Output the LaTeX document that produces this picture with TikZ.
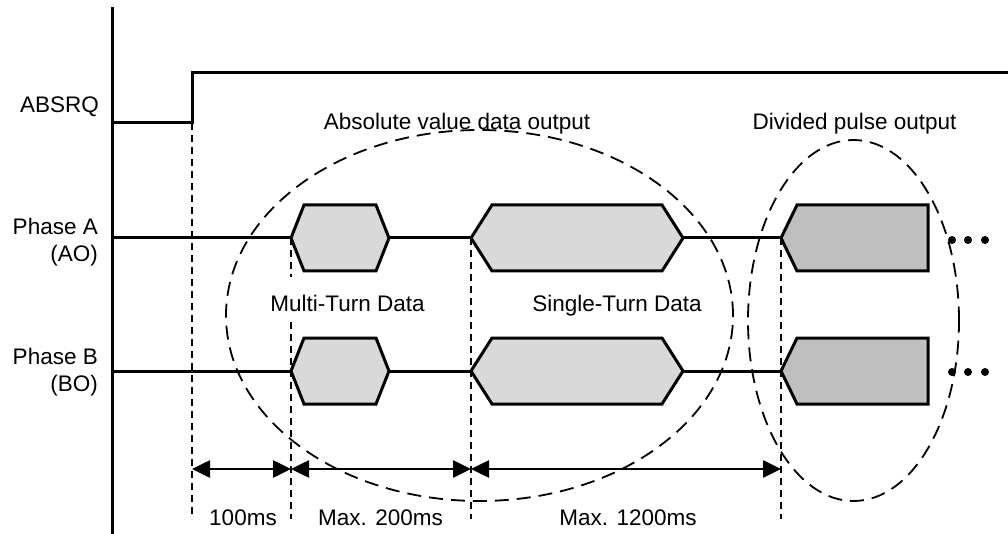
\documentclass[tikz,border=0pt]{standalone}
\usepackage{fontspec}
\setmainfont{Liberation Sans}
\usetikzlibrary{arrows.meta}
\begin{document}
\begin{tikzpicture}[x=1pt,y=-1pt,
  sig/.style={line width=3pt, line join=miter},
  guide/.style={line width=1.8pt, dash pattern=on 7pt off 5pt},
  grp/.style={line width=1.8pt, dash pattern=on 14pt off 8pt},
  lbl/.style={font=\fontsize{22.5}{27}\selectfont, inner sep=0pt},
  dimline/.style={line width=2.6pt, {Triangle[length=18pt,width=17pt]}-{Triangle[length=18pt,width=17pt]}},
  hexfill/.style={sig, fill=black!15},
  pulsefill/.style={sig, fill=black!25},
  dotmark/.style={circle, fill=black, inner sep=0pt, minimum size=8pt}
]
\useasboundingbox (0,0) rectangle (1008,534);

% guide coordinates
\coordinate (t0) at (192,469);
\coordinate (t1) at (291,469);
\coordinate (t2) at (471,469);
\coordinate (t3) at (781,469);

% dashed vertical guides
\draw[guide] (192,123) -- (192,519);
\draw[guide] (291,238) -- (291,277);
\draw[guide] (291,322) -- (291,519);
\draw[guide] (471,238) -- (471,519);
\draw[guide] (781,238) -- (781,519);

% axis
\draw[sig] (112,7) -- (112,534);

% ABSRQ
\draw[sig] (112,123) -- (192,123) -- (192,73) -- (1008,73);

% Phase A
\draw[sig] (112,238) -- (291,238);
\draw[sig] (389,238) -- (471,238);
\draw[sig] (683,238) -- (781,238);
\draw[hexfill] (291,238) -- (304,205) -- (376,205) -- (389,238) -- (376,271) -- (304,271) -- cycle;
\draw[hexfill] (471,238) -- (492,205) -- (662,205) -- (683,238) -- (662,271) -- (492,271) -- cycle;
\draw[pulsefill] (781,238) -- (797,205) -- (928,205) -- (928,271) -- (797,271) -- cycle;

% Phase B
\draw[sig] (112,371) -- (291,371);
\draw[sig] (389,371) -- (471,371);
\draw[sig] (683,371) -- (781,371);
\draw[hexfill] (291,371) -- (304,338) -- (376,338) -- (389,371) -- (376,404) -- (304,404) -- cycle;
\draw[hexfill] (471,371) -- (492,338) -- (662,338) -- (683,371) -- (662,404) -- (492,404) -- cycle;
\draw[pulsefill] (781,371) -- (797,338) -- (928,338) -- (928,404) -- (797,404) -- cycle;

% continuation dots
\node[dotmark] (da1) at (952,240) {};
\node[dotmark] (da2) at (968,240) {};
\node[dotmark] (da3) at (985,240) {};
\node[dotmark] (db1) at (952,372) {};
\node[dotmark] (db2) at (968,372) {};
\node[dotmark] (db3) at (985,372) {};

% grouping ellipses
\draw[grp] (479.5,315.5) ellipse [x radius=253.5pt, y radius=185.5pt];
\draw[grp] (853.5,320.5) ellipse [x radius=105.5pt, y radius=180.5pt];

% dimension arrows
\draw[dimline] (t0) -- (t1);
\draw[dimline] (t1) -- (t2);
\draw[dimline] (t2) -- (t3);

% labels
\node[lbl, anchor=base east] (absrq) at (99,113) {ABSRQ};
\node[lbl, anchor=base east] (pa) at (98,235) {Phase A};
\node[lbl, anchor=base east] (pao) at (98,262) {(AO)};
\node[lbl, anchor=base east] (pb) at (98,364) {Phase B};
\node[lbl, anchor=base east] (pbo) at (98,391) {(BO)};
\node[lbl, anchor=base] (abs) at (457,130) {Absolute value data output};
\node[lbl, anchor=base] (div) at (854.5,130) {Divided pulse output};
\node[lbl, anchor=base] (mt) at (347.5,311) {Multi-Turn Data};
\node[lbl, anchor=base] (st) at (617,311) {Single-Turn Data};
\node[lbl, anchor=base] (l1) at (243,525) {100ms};
\node[lbl, anchor=base] (l2) at (380.5,525) {Max. 200ms};
\node[lbl, anchor=base] (l3) at (628,525) {Max. 1200ms};
\end{tikzpicture}
\end{document}
